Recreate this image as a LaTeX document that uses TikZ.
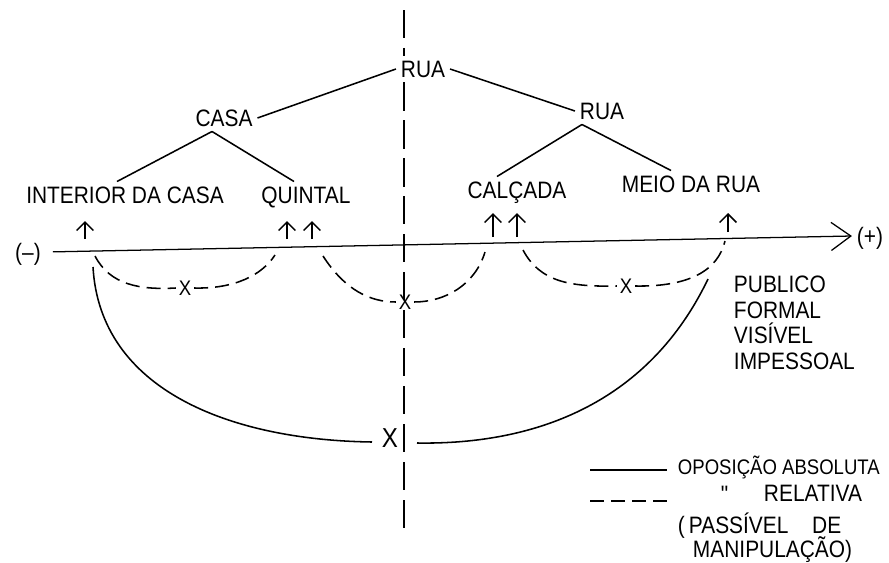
\documentclass[tikz,border=0pt]{standalone}
\usepackage{fontspec}
\setmainfont{Liberation Sans}[FakeStretch=0.88]
\usetikzlibrary{arrows.meta}
\usetikzlibrary{calc}

\begin{document}
\begin{tikzpicture}[x=0.25mm, y=-0.25mm, line width=1.1pt,
  lbl/.style={inner sep=3pt, text height=12.1pt, text depth=0pt, font=\fontsize{16.9}{20}\selectfont},
  xmark/.style={inner sep=1.5pt, font=\fontsize{15}{16}\selectfont},
  rel/.style={dash pattern=on 10pt off 5pt},
  cut/.style={dash pattern=on 20pt off 7pt},
  >={Straight Barb[length=6pt,width=12pt]}]

\useasboundingbox (0,0) rectangle (889,563);

% the tree
\node[lbl] (ruatop) at (423,69) {RUA};
\node[lbl] (casa) at (224,118) {CASA};
\node[lbl] (ruadir) at (602,111) {RUA};
\node[lbl] (interior) at (125,195) {INTERIOR DA CASA};
\node[lbl] (quintal) at (306,195) {QUINTAL};
\node[lbl] (calcada) at (517,190) {CALÇADA};
\node[lbl] (meio) at (691,184) {MEIO DA RUA};

\draw (ruatop.west) -- (casa.east);
\draw (ruatop.east) -- (ruadir.west);
\draw ([xshift=-3mm]casa.south) -- ([xshift=-2mm]interior.north);
\draw ([xshift=-3mm]casa.south) -- ([xshift=-3mm]quintal.north);
\draw ([xshift=-5mm]ruadir.south) -- ([xshift=-5mm]calcada.north);
\draw ([xshift=-5mm]ruadir.south) -- ([xshift=-5mm]meio.north);

% the cut
\coordinate (cuttop) at (404,10);
\coordinate (cutbot) at (404,535);
\draw[cut] (cuttop) -- (cuttop |- ruatop.north);
\draw[cut] (cuttop |- ruatop.south) -- (cutbot);

% the axis
\node[lbl] (neg) at (28,252) {(–)};
\node[lbl] (pos) at (870,236) {(+)};
\draw[-{Straight Barb[length=14pt,width=20pt]}, line width=0.9pt, shorten <=5pt] (neg.east) -- (pos.west);

\coordinate (up1a) at (85,239);  \coordinate (up1b) at (85,221);
\coordinate (up2a) at (287,239); \coordinate (up2b) at (287,221);
\coordinate (up3a) at (312,239); \coordinate (up3b) at (312,221);
\coordinate (up4a) at (493,237); \coordinate (up4b) at (493,213);
\coordinate (up5a) at (517,237); \coordinate (up5b) at (517,213);
\coordinate (up6a) at (728,232); \coordinate (up6b) at (728,213);

\begin{scope}[->]
\draw (up1a) -- (up1b);
\draw (up2a) -- (up2b);
\draw (up3a) -- (up3b);
\draw (up4a) -- (up4b);
\draw (up5a) -- (up5b);
\draw (up6a) -- (up6b);
\end{scope}

% relative oppositions
\node[xmark] (x1) at (185,288) {X};
\node[xmark] (x2) at (405,302) {X};
\node[xmark] (x3) at (626,286) {X};

\coordinate (a1l) at (95,256);
\coordinate (a1r) at (275,255);
\coordinate (a2l) at (323,256);
\coordinate (a2r) at (485,252);
\coordinate (a3l) at (523,250);
\coordinate (a3r) at (725,241);

\begin{scope}[rel]
\draw (a1l) .. controls (110,285) and (140,290) .. (x1.west);
\draw (x1.east) .. controls (235,289) and (262,275) .. (a1r);
\draw (a2l) .. controls (345,290) and (370,302) .. (x2.west);
\draw (x2.east) .. controls (445,302) and (475,285) .. (a2r);
\draw (a3l) .. controls (540,282) and (570,287) .. (x3.west);
\draw (x3.east) .. controls (690,287) and (718,270) .. (a3r);
\end{scope}

% absolute opposition
\node[xmark, font=\fontsize{19.5}{22}\selectfont] (bigx) at (390,438) {X};
\coordinate (bl) at (93,267);
\coordinate (bxl) at (372,442);
\coordinate (bxr) at (417,443);
\coordinate (br) at (708,279);
\draw (bl) .. controls (100,390) and (230,440) .. (bxl);
\draw (bxr) .. controls (540,445) and (650,400) .. (br);

\node[anchor=north west, align=left, inner sep=3pt, font=\fontsize{16.9}{18.2}\selectfont] (publico) at (729,271)
  {PUBLICO\\FORMAL\\VISÍVEL\\IMPESSOAL};

% legend
\coordinate (solA) at (590,470);
\coordinate (solB) at (667,470);
\coordinate (dasA) at (590,501);
\coordinate (dasB) at (667,501);
\draw (solA) -- (solB);
\draw[rel] (dasA) -- (dasB);
\node[lbl, anchor=west, font=\fontsize{15}{18}\selectfont, text height=10.7pt] (absoluta) at (673,467) {OPOSIÇÃO ABSOLUTA};
\node[lbl] (ditto) at (725,494) {\textquotedbl};
\node[lbl, anchor=west] (relativa) at (759,493) {RELATIVA};
\node[lbl, anchor=west] (passivel) at (673,525) {(\,PASSÍVEL\hspace{1em}DE};
\node[lbl, anchor=west] (manip) at (688,549) {MANIPULAÇÃO)};

\end{tikzpicture}
\end{document}
